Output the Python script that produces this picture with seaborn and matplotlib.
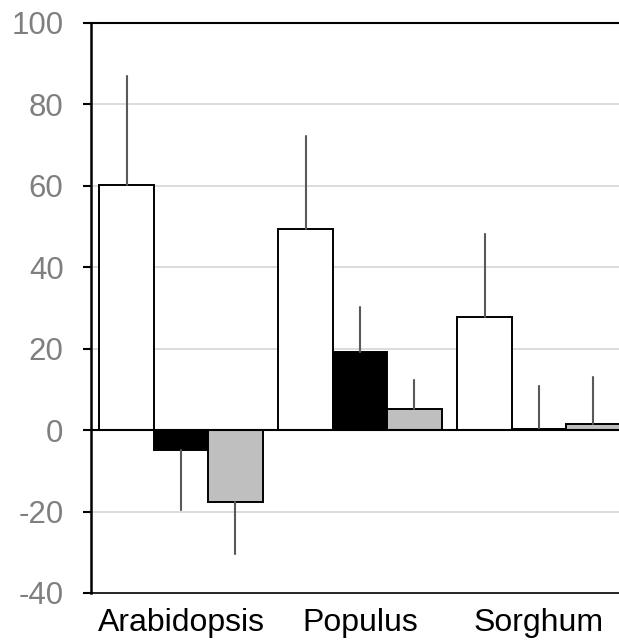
import pandas as pd
import matplotlib.pyplot as plt
import seaborn as sns

# values
species = ['Arabidopsis', 'Populus', 'Sorghum']
series = ['s1', 's2', 's3']
vals_s1 = [60.2, 49.5, 27.9]
vals_s2 = [-4.9, 19.3, 0.3]
vals_s3 = [-17.6, 5.2, 1.4]
err_s1 = [26.8, 22.8, 20.3]
err_s2 = [14.7, 11.0, 10.6]
err_s3 = [12.9, 7.2, 11.7]
yticks = [-40, -20, 0, 20, 40, 60, 80, 100]

df = pd.DataFrame({
    'species': species * 3,
    'series': [s for s in series for _ in species],
    'value': vals_s1 + vals_s2 + vals_s3,
})
errs = [err_s1, err_s2, err_s3]

sns.set_theme(style='white')
plt.rcParams['font.family'] = ['Liberation Sans', 'DejaVu Sans']

fig = plt.figure(figsize=(6.19, 6.41), dpi=100)
ax = fig.add_axes([91 / 619, 1 - 593 / 641, 1 - 91 / 619, (593 - 23) / 641])

sns.barplot(data=df, x='species', y='value', hue='series', order=species, hue_order=series,
            palette=['white', 'black', '#bfbfbf'], edgecolor='black', linewidth=1.4,
            width=0.913, gap=0, errorbar=None, legend=False, ax=ax, zorder=3)

# one-sided error bars (away from zero)
for cont, e in zip(ax.containers, errs):
    for bar, err in zip(cont, e):
        x = bar.get_x() + bar.get_width() / 2
        h = bar.get_height()
        y = bar.get_y() + h
        sign = 1 if y >= 0 else -1
        ax.plot([x, x], [y, y + sign * err], color='#595959', lw=1.5, zorder=4)

ax.axhline(0, color='black', lw=1.5, zorder=5)
for t in [20, 40, 60, 80, -20]:
    ax.axhline(t, color='#d9d9d9', lw=1.3, zorder=1)

ax.set_ylim(-40, 100)
ax.set_xlim(-0.503, 2.447)
ax.set_yticks(yticks)
ax.set_yticklabels([str(t) for t in yticks])
ax.tick_params(axis='y', direction='out', length=8 * 0.72, width=1.5, color='black',
               labelcolor='#7f7f7f', labelsize=22.5, pad=14, left=True)
ax.tick_params(axis='x', length=0, labelsize=23, labelcolor='black', pad=11)
ax.set_xlabel('')
ax.set_ylabel('')

for side in ['left', 'top', 'bottom']:
    ax.spines[side].set_visible(True)
    ax.spines[side].set_color('black')
ax.spines['left'].set_linewidth(1.8)
ax.spines['top'].set_linewidth(1.5)
ax.spines['bottom'].set_linewidth(1.2)
ax.spines['right'].set_visible(False)

fig.savefig('out.png', dpi=100)
